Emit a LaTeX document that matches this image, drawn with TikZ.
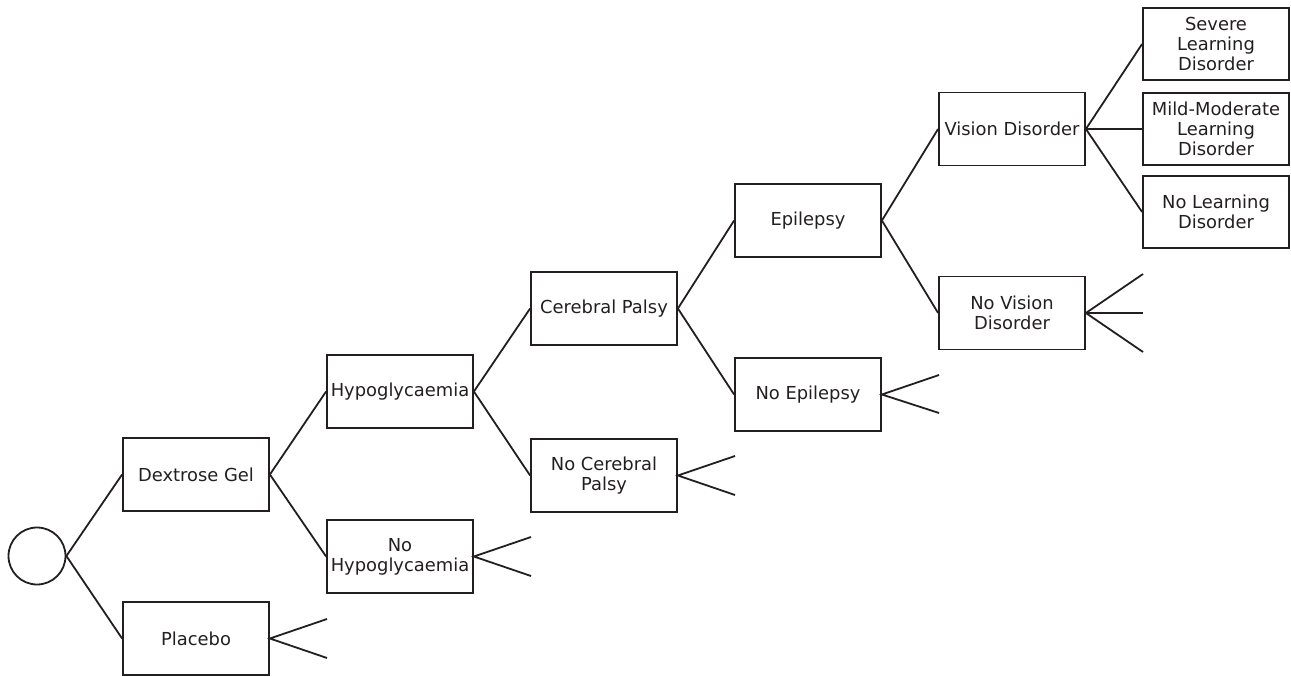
\documentclass[tikz,border=0pt]{standalone}
\usepackage{fontspec}
\setmainfont{DejaVu Sans}
\definecolor{ink}{HTML}{231F20}
\begin{document}
\begin{tikzpicture}[x=1pt,y=-1pt,
  line width=1.8pt, draw=ink,
  box/.style={draw=ink, line width=1.8pt, rectangle, minimum width=146pt, minimum height=73pt, inner sep=2pt, align=center, text=ink, font=\fontsize{17.9}{20}\selectfont},
  lbox/.style={box, minimum height=72pt},
  root/.style={draw=ink, line width=1.8pt, circle, minimum size=57pt, inner sep=0pt},
  link/.style={draw=ink, line width=1.8pt}
]
\useasboundingbox (0,0) rectangle (1291,677);
\node[root] (r) at (37,556) {};
\node[box] (dg) at (196,474.5) {Dextrose Gel};
\node[box] (pl) at (196,638.5) {Placebo};
\node[box] (hy) at (400,391.5) {Hypoglycaemia};
\node[box] (nh) at (400,556.5) {No\\Hypoglycaemia};
\node[box] (cp) at (604,308.5) {Cerebral Palsy};
\node[box] (ncp) at (604,475.5) {No Cerebral\\Palsy};
\node[box] (ep) at (808,220.5) {Epilepsy};
\node[box] (nep) at (808,394.5) {No Epilepsy};
\node[box] (vd) at (1012,129) {Vision Disorder};
\node[box] (nvd) at (1012,313) {No Vision\\Disorder};
\node[lbox] (sld) at (1216,44) {Severe\\Learning\\Disorder};
\node[lbox] (mld) at (1216,129) {Mild-Moderate\\Learning\\Disorder};
\node[lbox] (nld) at (1216,212) {No Learning\\Disorder};

\coordinate (pla) at (327,619);
\coordinate (plb) at (327,658);
\coordinate (nha) at (531,537);
\coordinate (nhb) at (531,576);
\coordinate (ncpa) at (735,456);
\coordinate (ncpb) at (735,495);
\coordinate (nepa) at (939,375);
\coordinate (nepb) at (939,413);
\coordinate (nvda) at (1143,274);
\coordinate (nvdb) at (1143,313);
\coordinate (nvdc) at (1143,352);

\draw[link] (r.east) -- (dg.west);
\draw[link] (r.east) -- (pl.west);
\draw[link] (dg.east) -- (hy.west);
\draw[link] (dg.east) -- (nh.west);
\draw[link] (hy.east) -- (cp.west);
\draw[link] (hy.east) -- (ncp.west);
\draw[link] (cp.east) -- (ep.west);
\draw[link] (cp.east) -- (nep.west);
\draw[link] (ep.east) -- (vd.west);
\draw[link] (ep.east) -- (nvd.west);
\draw[link] (vd.east) -- (sld.west);
\draw[link] (vd.east) -- (mld.west);
\draw[link] (vd.east) -- (nld.west);

\draw[link] (pla) -- (pl.east) -- (plb);
\draw[link] (nha) -- (nh.east) -- (nhb);
\draw[link] (ncpa) -- (ncp.east) -- (ncpb);
\draw[link] (nepa) -- (nep.east) -- (nepb);
\draw[link] (nvda) -- (nvd.east) -- (nvdc);
\draw[link] (nvd.east) -- (nvdb);
\end{tikzpicture}
\end{document}
